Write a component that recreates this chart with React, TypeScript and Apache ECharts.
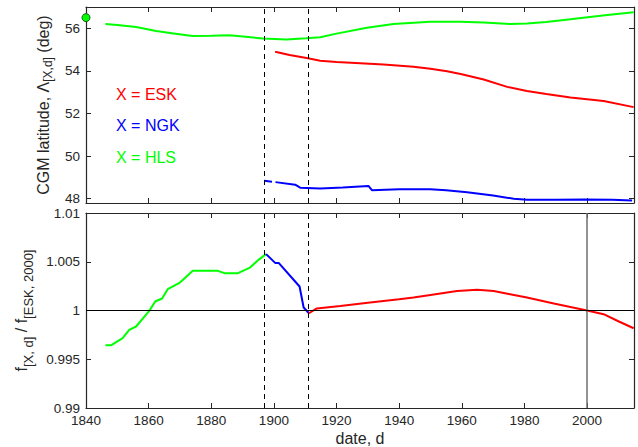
import React, { useEffect, useRef } from 'react';
import * as echarts from 'echarts';

const xTicks = [1840, 1860, 1880, 1900, 1920, 1940, 1960, 1980, 2000];
const topYTicks = [48, 50, 52, 54, 56];
const botYTicks = [0.99, 0.995, 1, 1.005, 1.01];

// CGM latitude (deg)
const hlsLat: [number, number][] = [
  [1846.2, 56.2], [1850, 56.15], [1856, 56.06], [1862.4, 55.87], [1868, 55.76], [1874, 55.64],
  [1880, 55.65], [1885.8, 55.67], [1891, 55.6], [1896.5, 55.52], [1904, 55.48], [1910.3, 55.53],
  [1914.8, 55.58], [1920, 55.75], [1929.7, 56.03], [1938.2, 56.2], [1949.9, 56.31], [1959.5, 56.31],
  [1967, 56.27], [1975.5, 56.2], [1980.8, 56.23], [1987, 56.3], [1994.7, 56.42], [2005, 56.6], [2014.9, 56.75],
];
const eskLat: [number, number][] = [
  [1900.4, 54.9], [1905, 54.75], [1910.9, 54.59], [1914.8, 54.48], [1920, 54.42], [1927.6, 54.36],
  [1935, 54.3], [1944.6, 54.2], [1950, 54.1], [1955.3, 53.98], [1960, 53.84], [1967, 53.6],
  [1974.5, 53.25], [1980.8, 53.06], [1987, 52.92], [1994.7, 52.75], [2005.3, 52.59], [2014.9, 52.3],
];
const ngkLat: [number, number | null][] = [
  [1896.9, 48.84], [1899.4, 48.8], [1899.9, null], [1900.5, 48.78], [1906.8, 48.66], [1908.4, 48.52],
  [1914.8, 48.48], [1922, 48.53], [1930.2, 48.6], [1931.3, 48.4], [1940, 48.44], [1949.9, 48.44],
  [1955, 48.4], [1961.7, 48.31], [1970, 48.15], [1976.6, 48.0], [1980.8, 47.95], [1990, 47.95],
  [1999, 47.97], [2008, 47.95], [2014.4, 47.92],
];
const hlsMarker: [number, number][] = [[1840, 56.5]];

// frequency ratio f[X,d] / f[ESK,2000]
const hlsRatio: [number, number][] = [
  [1846.2, 0.99644], [1848.1, 0.99644], [1851.7, 0.99716], [1853.8, 0.99801], [1856, 0.99836],
  [1860.2, 0.99996], [1862.1, 1.00092], [1864.3, 1.00123], [1866.1, 1.00219], [1870, 1.00287],
  [1874.1, 1.00407], [1882.1, 1.00407], [1884.2, 1.00383], [1888.5, 1.00383], [1892.2, 1.00437],
  [1895.4, 1.00527], [1897.5, 1.00578],
];
const ngkRatio: [number, number][] = [
  [1897.5, 1.00578], [1900.5, 1.00486], [1901.6, 1.00486], [1908.2, 1.00246], [1909.5, 1.00031], [1911.2, 0.99972],
];
const eskRatio: [number, number][] = [
  [1911.2, 0.99972], [1913.7, 1.00021], [1921.2, 1.00047], [1930, 1.0008], [1940, 1.00115],
  [1944.6, 1.00133], [1950, 1.0016], [1958.5, 1.00201], [1964.9, 1.00212], [1970.2, 1.00201],
  [1975, 1.0017], [1980.8, 1.00133], [1989.4, 1.00072], [2000, 1.0], [2005.3, 0.99962],
  [2010, 0.9989], [2014.9, 0.99818],
];

const boundaryYears = [1897, 1911];
const refYear = 2000;
const refRatio = 1;

const labels = [
  { text: 'X = ESK', color: '#ff0000' },
  { text: 'X = NGK', color: '#0000ff' },
  { text: 'X = HLS', color: '#00ff00' },
];

const FONT = '"Liberation Sans", Arial, Helvetica, sans-serif';
const AX = '#262626';

export default function App() {
  const ref = useRef<HTMLDivElement>(null);
  useEffect(() => {
    if (!ref.current) return;
    const chart = echarts.init(ref.current, undefined, { renderer: 'svg' });
    const frameAxis = (extra: any) => ({
      type: 'value',
      axisLine: { show: true, onZero: false, lineStyle: { color: AX, width: 1.2 } },
      splitLine: { show: false },
      ...extra,
    });
    const xBase = (grid: number, pos: string, showLabel: boolean, name?: string) =>
      frameAxis({
        gridIndex: grid,
        position: pos,
        min: 1840,
        max: 2015,
        axisTick: { show: true, inside: true, length: 5, customValues: xTicks, lineStyle: { color: AX, width: 1 } },
        axisLabel: {
          show: showLabel,
          customValues: xTicks,
          margin: 5,
          color: AX,
          fontSize: 13.5,
          fontFamily: FONT,
          formatter: (v: number) => String(Math.round(v)),
        },
        name: name,
        nameLocation: 'middle',
        nameGap: 22,
        nameTextStyle: { color: AX, fontSize: 16, fontFamily: FONT },
      });
    const yBase = (grid: number, pos: string, min: number, max: number, ticks: number[], showLabel: boolean, name?: string, rich?: any, nameGap?: number) =>
      frameAxis({
        gridIndex: grid,
        position: pos,
        min,
        max,
        axisTick: { show: true, inside: true, length: 5, customValues: ticks, lineStyle: { color: AX, width: 1 } },
        axisLabel: {
          show: showLabel,
          customValues: ticks,
          margin: 6,
          color: AX,
          fontSize: 13.5,
          lineHeight: 13,
          fontFamily: FONT,
          formatter: (v: number) => String(+v.toFixed(4)),
        },
        name,
        nameLocation: 'middle',
        nameGap: nameGap ?? 30,
        nameRotate: 90,
        nameTextStyle: { color: AX, fontSize: 16, fontFamily: FONT, rich },
      });

    const richTop = {
      a: { fontSize: 16, fontFamily: FONT, color: AX },
      b: { fontSize: 12, fontFamily: FONT, color: AX, padding: [10, 0, 0, 0] },
    };
    const richBot = {
      a: { fontSize: 16, fontFamily: FONT, color: AX },
      b: { fontSize: 13, fontFamily: FONT, color: AX, padding: [14, 0, 0, 0] },
    };

    const dashed = {
      silent: true,
      symbol: 'none',
      label: { show: false },
      lineStyle: { color: '#000', type: [5, 4], width: 1 },
      data: boundaryYears.map((y) => ({ xAxis: y })),
    };

    const line = (name: string, data: any, color: string, xi: number, yi: number, extra: any = {}) => ({
      name,
      type: 'line',
      xAxisIndex: xi,
      yAxisIndex: yi,
      data,
      showSymbol: false,
      symbol: 'none',
      connectNulls: false,
      lineStyle: { color, width: 2 },
      itemStyle: { color },
      z: 3,
      ...extra,
    });

    chart.setOption({
      animation: false,
      backgroundColor: '#fff',
      grid: [
        { left: 86, right: 4, top: 7, height: 196, containLabel: false },
        { left: 86, right: 4, top: 213, height: 196, containLabel: false },
      ],
      xAxis: [
        xBase(0, 'bottom', false),
        xBase(0, 'top', false),
        xBase(1, 'bottom', true, 'date, d'),
        xBase(1, 'top', false),
      ],
      yAxis: [
        yBase(0, 'left', 47.8, 57, topYTicks, true, '{a|CGM latitude, Λ}{b|[X,d]}{a| (deg)}', richTop, 30),
        yBase(0, 'right', 47.8, 57, topYTicks, false),
        yBase(1, 'left', 0.99, 1.01, botYTicks, true, '{a|f}{b|[X, d]}{a| / f}{b|[ESK, 2000]}', richBot, 46),
        yBase(1, 'right', 0.99, 1.01, botYTicks, false),
      ],
      graphic: labels.map((l, i) => ({
        type: 'text',
        x: 116,
        y: 94 + i * 31.5,
        style: { text: l.text, fill: l.color, fontSize: 16, fontFamily: FONT, verticalAlign: 'middle' },
      })),
      series: [
        line('HLS', hlsLat, '#00ff00', 0, 0, { markLine: dashed }),
        line('ESK', eskLat, '#ff0000', 0, 0),
        line('NGK', ngkLat, '#0000ff', 0, 0),
        {
          type: 'scatter',
          xAxisIndex: 0,
          yAxisIndex: 0,
          data: hlsMarker,
          symbolSize: 8,
          clip: false,
          itemStyle: { color: '#00ff00', borderColor: '#1a5c1a', borderWidth: 1, opacity: 1 },
          z: 5,
        },
        line('HLS ratio', hlsRatio, '#00ff00', 2, 2, {
          markLine: {
            silent: true,
            symbol: 'none',
            label: { show: false },
            data: [
              ...boundaryYears.map((y) => ({ xAxis: y, lineStyle: { color: '#000', type: [5, 4], width: 1 } })),
              { xAxis: refYear, lineStyle: { color: '#6e6e6e', type: 'solid', width: 1.5 } },
              { yAxis: refRatio, lineStyle: { color: '#000', type: 'solid', width: 1 } },
            ],
          },
        }),
        line('NGK ratio', ngkRatio, '#0000ff', 2, 2),
        line('ESK ratio', eskRatio, '#ff0000', 2, 2),
      ],
    });
    return () => chart.dispose();
  }, []);
  return <div ref={ref} style={{ width: 638, height: 447, position: 'absolute', left: 0, top: 0 }} />;
}
